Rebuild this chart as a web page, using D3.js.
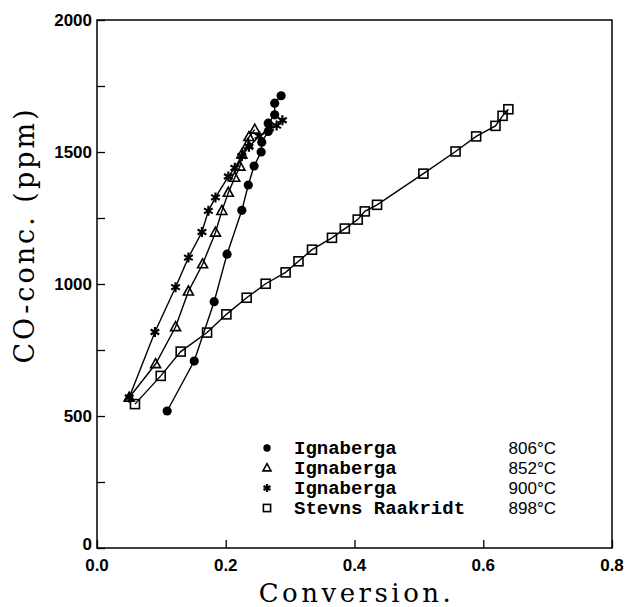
<!DOCTYPE html>
<html>
<head>
<meta charset="utf-8">
<script src="https://cdn.jsdelivr.net/npm/d3@7"></script>
<style>
  html, body { margin: 0; padding: 0; background: #fff; }
  svg { display: block; }
</style>
</head>
<body>
<svg id="chart" width="626" height="607"></svg>
<script>
// ---- data ----
const conv806 = [0.109, 0.151, 0.182, 0.202, 0.225, 0.235, 0.244, 0.255, 0.256, 0.266, 0.266, 0.276, 0.276, 0.286];
const co806   = [519, 708, 933, 1113, 1279, 1375, 1447, 1500, 1537, 1578, 1609, 1641, 1685, 1713];

const conv852 = [0.050, 0.091, 0.122, 0.142, 0.164, 0.184, 0.194, 0.204, 0.214, 0.222, 0.225, 0.234, 0.236, 0.245];
const co852   = [570, 697, 837, 972, 1075, 1195, 1277, 1346, 1403, 1445, 1491, 1529, 1557, 1585];

const conv900 = [0.050, 0.090, 0.122, 0.142, 0.163, 0.173, 0.184, 0.204, 0.214, 0.225, 0.236, 0.252, 0.268, 0.279, 0.288];
const co900   = [570, 818, 988, 1100, 1197, 1277, 1328, 1407, 1440, 1485, 1520, 1560, 1590, 1600, 1620];

const convSR = [0.059, 0.099, 0.130, 0.171, 0.201, 0.2325, 0.262, 0.293, 0.313, 0.334, 0.365, 0.385, 0.405, 0.416, 0.435, 0.507, 0.557, 0.589, 0.619, 0.630, 0.639];
const coSR   = [545, 652, 744, 816, 885, 948, 1001, 1044, 1086, 1130, 1175, 1210, 1244, 1275, 1300, 1418, 1502, 1559, 1599, 1637, 1662];

const xTicks = [0.0, 0.2, 0.4, 0.6, 0.8];
const xTickLabels = ["0.0", "0.2", "0.4", "0.6", "0.8"];
const yTicks = [0, 500, 1000, 1500, 2000];
const yTickLabels = ["0", "500", "1000", "1500", "2000"];
const yMinorTicks = [250, 750, 1250, 1750];

const legendNames = ["Ignaberga", "Ignaberga", "Ignaberga", "Stevns Raakridt"];
const legendTemps = ["806°C", "852°C", "900°C", "898°C"];
const xTitle = "Conversion.";
const yTitle = "CO-conc. (ppm)";

// ---- layout ----
const svg = d3.select("#chart");
const mLeft = 97, mRight = 612, mTop = 20, mBottom = 548;
const x = d3.scaleLinear().domain([0, 0.8]).range([mLeft, mRight]);
const y = d3.scaleLinear().domain([0, 2000]).range([mBottom, mTop]);

// frame
svg.append("rect").attr("x", mLeft).attr("y", mTop)
  .attr("width", mRight - mLeft).attr("height", mBottom - mTop)
  .attr("fill", "none").attr("stroke", "#000").attr("stroke-width", 1.5);

// axes using d3 axis generators (ticks inward)
const xAxis = d3.axisBottom(x).tickValues(xTicks).tickSize(-8).tickFormat("");
svg.append("g").attr("transform", `translate(0,${mBottom})`).call(xAxis)
  .call(g => g.select(".domain").remove())
  .call(g => g.selectAll("line").attr("stroke", "#000").attr("stroke-width", 1.3));

const yAxis = d3.axisLeft(y).tickValues(yTicks.concat(yMinorTicks)).tickSize(-8).tickFormat("");
svg.append("g").attr("transform", `translate(${mLeft},0)`).call(yAxis)
  .call(g => g.select(".domain").remove())
  .call(g => g.selectAll("line").attr("stroke", "#000").attr("stroke-width", 1.3));

const tickFont = "'Liberation Sans', Arial, sans-serif";
svg.append("g").selectAll("text").data(xTicks).join("text")
  .attr("x", d => x(d)).attr("y", mBottom + 23)
  .attr("text-anchor", "middle")
  .attr("font-family", tickFont).attr("font-weight", "bold").attr("font-size", 17)
  .text((d, i) => xTickLabels[i]);

svg.append("g").selectAll("text").data(yTicks).join("text")
  .attr("x", mLeft - 5).attr("y", d => d === 0 ? y(d) + 2 : y(d) + 6)
  .attr("text-anchor", "end")
  .attr("font-family", tickFont).attr("font-weight", "bold").attr("font-size", 17)
  .text((d, i) => yTickLabels[i]);

// titles
const titleFont = "'DejaVu Serif', 'Liberation Serif', serif";
svg.append("text")
  .attr("x", (mLeft + mRight) / 2 + 2).attr("y", 602)
  .attr("text-anchor", "middle")
  .attr("font-family", titleFont).attr("font-size", 26)
  .attr("letter-spacing", 3.5)
  .text(xTitle);

svg.append("text")
  .attr("transform", `translate(34,${235}) rotate(-90)`)
  .attr("text-anchor", "middle")
  .attr("font-family", titleFont).attr("font-size", 27)
  .attr("letter-spacing", 3)
  .text(yTitle);

// ---- series ----
const line = d3.line().x(d => x(d[0])).y(d => y(d[1]));
function pairs(xs, ys) { return xs.map((v, i) => [v, ys[i]]); }

const series = [
  { data: pairs(conv806, co806), sym: "circle" },
  { data: pairs(conv852, co852), sym: "triangle" },
  { data: pairs(conv900, co900), sym: "star" },
  { data: pairs(convSR, coSR), sym: "square" }
];

function drawSymbol(g, sym, cx, cy, s) {
  if (sym === "circle") {
    g.append("circle").attr("cx", cx).attr("cy", cy).attr("r", 4.6 * s).attr("fill", "#000");
  } else if (sym === "triangle") {
    const h = 9 * s, w = 10 * s;
    g.append("path")
      .attr("d", `M${cx},${cy - h * 0.6}L${cx + w / 2},${cy + h * 0.4}L${cx - w / 2},${cy + h * 0.4}Z`)
      .attr("fill", "none").attr("stroke", "#000").attr("stroke-width", 1.6);
  } else if (sym === "square") {
    const a = 9 * s;
    g.append("rect").attr("x", cx - a / 2).attr("y", cy - a / 2).attr("width", a).attr("height", a)
      .attr("fill", "none").attr("stroke", "#000").attr("stroke-width", 1.6);
  } else if (sym === "star") {
    const r = 5 * s;
    let d = "";
    for (let k = 0; k < 3; k++) {
      const a = Math.PI / 2 + k * Math.PI / 3;
      d += `M${cx + r * Math.cos(a)},${cy + r * Math.sin(a)}L${cx - r * Math.cos(a)},${cy - r * Math.sin(a)}`;
    }
    g.append("path").attr("d", d).attr("stroke", "#000").attr("stroke-width", 2.2).attr("fill", "none");
  }
}

series.forEach(s => {
  svg.append("path").datum(s.data).attr("d", line)
    .attr("fill", "none").attr("stroke", "#000").attr("stroke-width", 1.4);
});
series.forEach(s => {
  const g = svg.append("g");
  s.data.forEach(d => drawSymbol(g, s.sym, x(d[0]), y(d[1]), 1));
});

// ---- legend ----
const legY0 = 448, legDy = 20;
const lg = svg.append("g");
series.forEach((s, i) => {
  const cy = legY0 + i * legDy;
  drawSymbol(lg, s.sym, 267, cy, 0.8);
  lg.append("text").attr("x", 294).attr("y", cy + 6)
    .attr("font-family", "'Liberation Mono', 'DejaVu Sans Mono', monospace")
    .attr("font-weight", "bold").attr("font-size", 19)
    .text(legendNames[i]);
  lg.append("text").attr("x", 556).attr("y", cy + 6)
    .attr("text-anchor", "end")
    .attr("font-family", tickFont).attr("font-size", 17)
    .text(legendTemps[i]);
});
</script>
</body>
</html>
